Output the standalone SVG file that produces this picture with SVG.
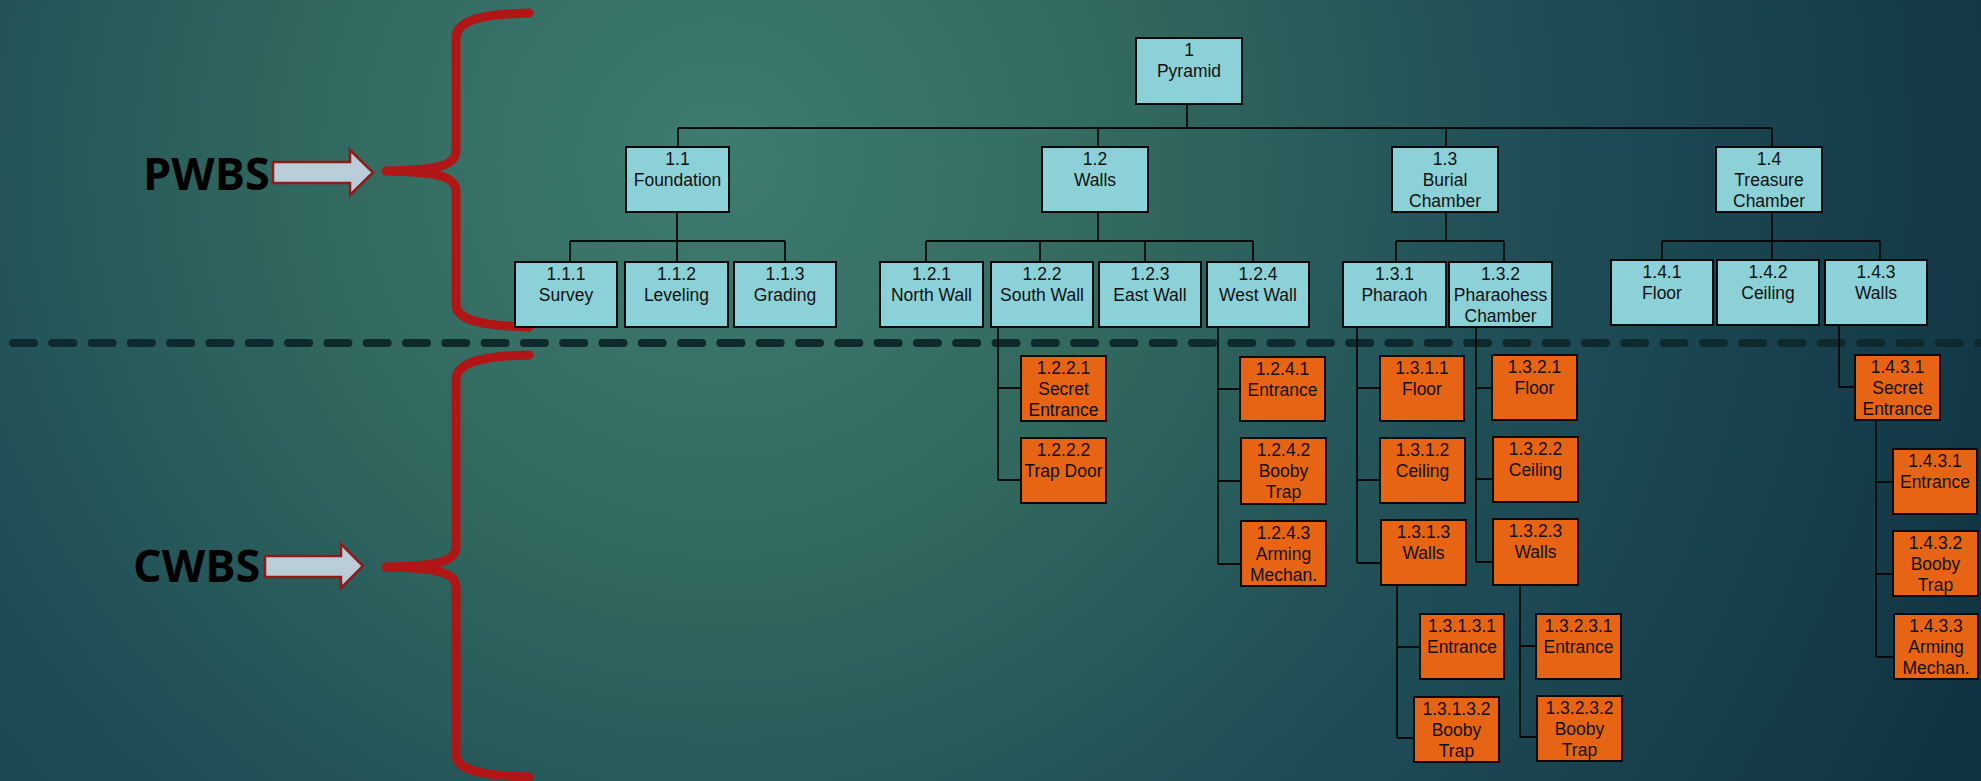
<svg xmlns="http://www.w3.org/2000/svg" width="1981" height="781" viewBox="0 0 1981 781">
<defs>
<radialGradient id="bg" gradientUnits="userSpaceOnUse" cx="720" cy="160" r="1350">
<stop offset="0" stop-color="#3e7b71"/>
<stop offset="0.3" stop-color="#32695f" />
<stop offset="0.6" stop-color="#1f4e57"/>
<stop offset="1" stop-color="#113443"/>
</radialGradient>
<style>
.t{fill:#8cd1d8;stroke:#0a0a0a;stroke-width:2}
.o{fill:#e76415;stroke:#0a0a0a;stroke-width:2}
text{font-family:"Liberation Sans",Arial,sans-serif;font-size:17.5px;fill:#111;text-anchor:middle}
.lbl{font-family:"Open Sans","DejaVu Sans",sans-serif;font-weight:bold;font-size:45px;fill:#000;text-anchor:start}
.c{stroke:#0a0a0a;stroke-width:1.8;fill:none}
.br{stroke:#b01616;stroke-width:9;fill:none;stroke-linecap:round;stroke-linejoin:round}
.ar{fill:#b9ced8;stroke:#8e1a1a;stroke-width:2.5}
</style>
</defs>
<rect x="0" y="0" width="1981" height="781" fill="url(#bg)"/>

<g id="legend">
<line x1="13" y1="343" x2="1981" y2="343" stroke="#0f2a2e" stroke-width="8" stroke-linecap="round" stroke-dasharray="21 18.3"/>
<path class="br" d="M529,13 C490,14 456,18 456,38 L456,150 C456,165 440,170 386,171 C440,172 456,177 456,192 L456,305 C456,322 490,326 529,327"/>
<path class="br" d="M529,355 C490,356 456,360 456,380 L456,546 C456,561 440,566 386,567 C440,568 456,573 456,588 L456,755 C456,772 490,776 529,777"/>
<polygon class="ar" points="273,162 350,162 350,150 373,172.5 350,195 350,183 273,183"/>
<polygon class="ar" points="265,556 341,556 341,544 363,566 341,588 341,577 265,577"/>
<text class="lbl" x="143" y="190">PWBS</text>
<text class="lbl" x="133" y="582">CWBS</text>
</g>

<g id="connectors">
<path class="c" d="M1187,104 V128 M678,128 H1772 M678,128 V147 M1098,128 V147 M1446,128 V147 M1772,128 V147"/>
<path class="c" d="M677,212 V241 M570,241 H785 M570,241 V262 M677,241 V262 M785,241 V262"/>
<path class="c" d="M1098,212 V241 M926,241 H1253 M926,241 V262 M1040,241 V262 M1145,241 V262 M1253,241 V262"/>
<path class="c" d="M1446,212 V241 M1396,241 H1504 M1396,241 V262 M1504,241 V262"/>
<path class="c" d="M1772,212 V241 M1662,241 H1880 M1662,241 V260 M1772,241 V260 M1880,241 V260"/>
<path class="c" d="M998,327 V480 M998,388 H1021 M998,480 H1021"/>
<path class="c" d="M1218,327 V564 M1218,389 H1240 M1218,481 H1241 M1218,564 H1241"/>
<path class="c" d="M1357,327 V563 M1357,388 H1380 M1357,480 H1380 M1357,563 H1381"/>
<path class="c" d="M1397,585 V738 M1397,647 H1420 M1397,738 H1414"/>
<path class="c" d="M1476,327 V562 M1476,388 H1492 M1476,479 H1493 M1476,562 H1493"/>
<path class="c" d="M1520,585 V737 M1520,646 H1536 M1520,737 H1537"/>
<path class="c" d="M1839,325 V387 H1855"/>
<path class="c" d="M1876,420 V657 M1876,482 H1893 M1876,574 H1893 M1876,657 H1894"/>
</g>

<g id="n1"><rect class="t" x="1136" y="38" width="106" height="66"/><text x="1189" y="56">1</text><text x="1189" y="77">Pyramid</text></g>

<g id="n1_1"><rect class="t" x="626" y="147" width="103" height="65"/><text x="677.5" y="165">1.1</text><text x="677.5" y="186">Foundation</text></g>
<g id="n1_2"><rect class="t" x="1042" y="147" width="106" height="65"/><text x="1095" y="165">1.2</text><text x="1095" y="186">Walls</text></g>
<g id="n1_3"><rect class="t" x="1392" y="147" width="106" height="65"/><text x="1445" y="165">1.3</text><text x="1445" y="186">Burial</text><text x="1445" y="207">Chamber</text></g>
<g id="n1_4"><rect class="t" x="1716" y="147" width="106" height="65"/><text x="1769" y="165">1.4</text><text x="1769" y="186">Treasure</text><text x="1769" y="207">Chamber</text></g>

<g id="n1_1_1"><rect class="t" x="515" y="262" width="102" height="65"/><text x="566" y="280">1.1.1</text><text x="566" y="301">Survey</text></g>
<g id="n1_1_2"><rect class="t" x="625" y="262" width="103" height="65"/><text x="676.5" y="280">1.1.2</text><text x="676.5" y="301">Leveling</text></g>
<g id="n1_1_3"><rect class="t" x="734" y="262" width="102" height="65"/><text x="785" y="280">1.1.3</text><text x="785" y="301">Grading</text></g>

<g id="n1_2_1"><rect class="t" x="880" y="262" width="103" height="65"/><text x="931.5" y="280">1.2.1</text><text x="931.5" y="301">North Wall</text></g>
<g id="n1_2_2"><rect class="t" x="991" y="262" width="102" height="65"/><text x="1042" y="280">1.2.2</text><text x="1042" y="301">South Wall</text></g>
<g id="n1_2_3"><rect class="t" x="1099" y="262" width="102" height="65"/><text x="1150" y="280">1.2.3</text><text x="1150" y="301">East Wall</text></g>
<g id="n1_2_4"><rect class="t" x="1207" y="262" width="102" height="65"/><text x="1258" y="280">1.2.4</text><text x="1258" y="301">West Wall</text></g>

<g id="n1_3_1"><rect class="t" x="1343" y="262" width="103" height="65"/><text x="1394.5" y="280">1.3.1</text><text x="1394.5" y="301">Pharaoh</text></g>
<g id="n1_3_2"><rect class="t" x="1449" y="262" width="103" height="65"/><text x="1500.5" y="280">1.3.2</text><text x="1500.5" y="301">Pharaohess</text><text x="1500.5" y="322">Chamber</text></g>

<g id="n1_4_1"><rect class="t" x="1611" y="260" width="102" height="65"/><text x="1662" y="278">1.4.1</text><text x="1662" y="299">Floor</text></g>
<g id="n1_4_2"><rect class="t" x="1717" y="260" width="102" height="65"/><text x="1768" y="278">1.4.2</text><text x="1768" y="299">Ceiling</text></g>
<g id="n1_4_3"><rect class="t" x="1825" y="260" width="102" height="65"/><text x="1876" y="278">1.4.3</text><text x="1876" y="299">Walls</text></g>

<g id="n1_2_2_1"><rect class="o" x="1021" y="356" width="85" height="65"/><text x="1063.5" y="374">1.2.2.1</text><text x="1063.5" y="395">Secret</text><text x="1063.5" y="416">Entrance</text></g>
<g id="n1_2_2_2"><rect class="o" x="1021" y="438" width="85" height="65"/><text x="1063.5" y="456">1.2.2.2</text><text x="1063.5" y="477">Trap Door</text></g>

<g id="n1_2_4_1"><rect class="o" x="1240" y="357" width="85" height="64"/><text x="1282.5" y="375">1.2.4.1</text><text x="1282.5" y="396">Entrance</text></g>
<g id="n1_2_4_2"><rect class="o" x="1241" y="438" width="85" height="66"/><text x="1283.5" y="456">1.2.4.2</text><text x="1283.5" y="477">Booby</text><text x="1283.5" y="498">Trap</text></g>
<g id="n1_2_4_3"><rect class="o" x="1241" y="521" width="85" height="65"/><text x="1283.5" y="539">1.2.4.3</text><text x="1283.5" y="560">Arming</text><text x="1283.5" y="581">Mechan.</text></g>

<g id="n1_3_1_1"><rect class="o" x="1380" y="356" width="84" height="65"/><text x="1422" y="374">1.3.1.1</text><text x="1422" y="395">Floor</text></g>
<g id="n1_3_1_2"><rect class="o" x="1380" y="438" width="85" height="65"/><text x="1422.5" y="456">1.3.1.2</text><text x="1422.5" y="477">Ceiling</text></g>
<g id="n1_3_1_3"><rect class="o" x="1381" y="520" width="85" height="65"/><text x="1423.5" y="538">1.3.1.3</text><text x="1423.5" y="559">Walls</text></g>
<g id="n1_3_1_3_1"><rect class="o" x="1420" y="614" width="84" height="65"/><text x="1462" y="632">1.3.1.3.1</text><text x="1462" y="653">Entrance</text></g>
<g id="n1_3_1_3_2"><rect class="o" x="1414" y="697" width="85" height="65"/><text x="1456.5" y="715">1.3.1.3.2</text><text x="1456.5" y="736">Booby</text><text x="1456.5" y="757">Trap</text></g>

<g id="n1_3_2_1"><rect class="o" x="1492" y="355" width="85" height="65"/><text x="1534.5" y="373">1.3.2.1</text><text x="1534.5" y="394">Floor</text></g>
<g id="n1_3_2_2"><rect class="o" x="1493" y="437" width="85" height="65"/><text x="1535.5" y="455">1.3.2.2</text><text x="1535.5" y="476">Ceiling</text></g>
<g id="n1_3_2_3"><rect class="o" x="1493" y="519" width="85" height="66"/><text x="1535.5" y="537">1.3.2.3</text><text x="1535.5" y="558">Walls</text></g>
<g id="n1_3_2_3_1"><rect class="o" x="1536" y="614" width="85" height="65"/><text x="1578.5" y="632">1.3.2.3.1</text><text x="1578.5" y="653">Entrance</text></g>
<g id="n1_3_2_3_2"><rect class="o" x="1537" y="696" width="85" height="65"/><text x="1579.5" y="714">1.3.2.3.2</text><text x="1579.5" y="735">Booby</text><text x="1579.5" y="756">Trap</text></g>

<g id="n1_4_3_1"><rect class="o" x="1855" y="355" width="85" height="65"/><text x="1897.5" y="373">1.4.3.1</text><text x="1897.5" y="394">Secret</text><text x="1897.5" y="415">Entrance</text></g>
<g id="n1_4_3_1b"><rect class="o" x="1893" y="449" width="84" height="65"/><text x="1935" y="467">1.4.3.1</text><text x="1935" y="488">Entrance</text></g>
<g id="n1_4_3_2"><rect class="o" x="1893" y="531" width="85" height="65"/><text x="1935.5" y="549">1.4.3.2</text><text x="1935.5" y="570">Booby</text><text x="1935.5" y="591">Trap</text></g>
<g id="n1_4_3_3"><rect class="o" x="1894" y="614" width="84" height="65"/><text x="1936" y="632">1.4.3.3</text><text x="1936" y="653">Arming</text><text x="1936" y="674">Mechan.</text></g>
</svg>
